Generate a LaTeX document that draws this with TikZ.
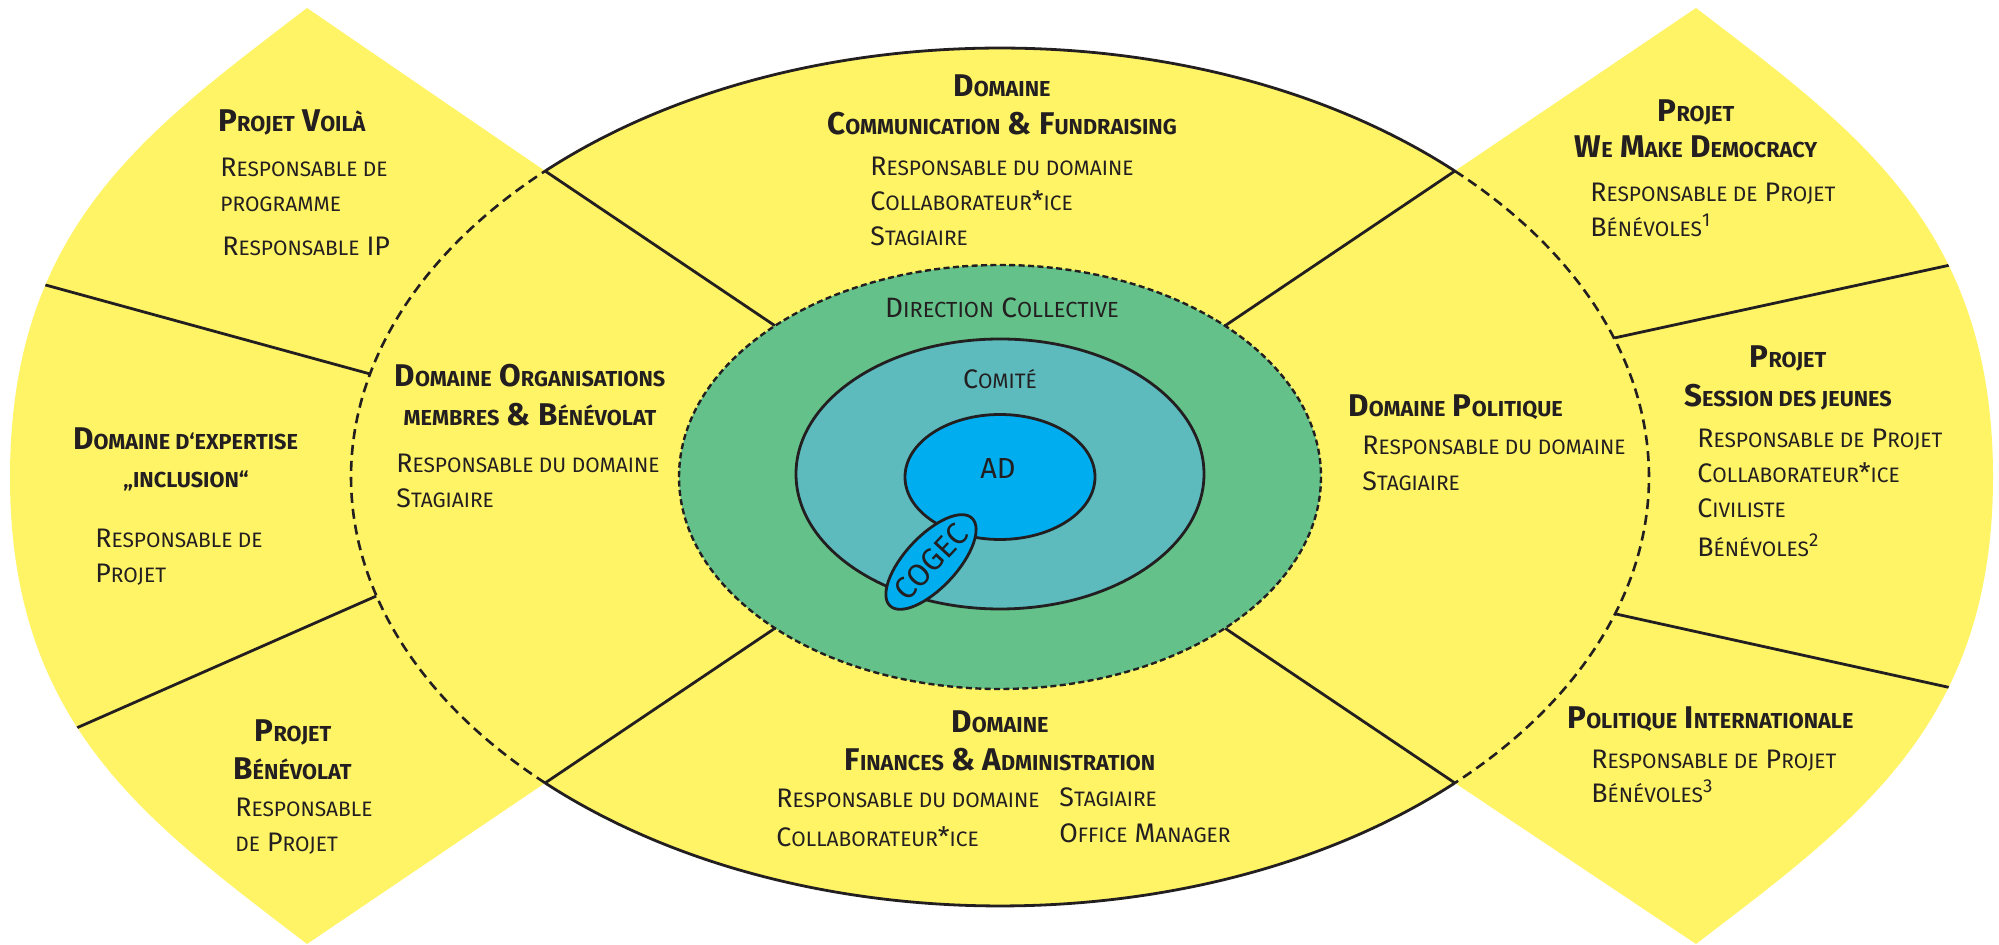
\documentclass[tikz,border=0pt]{standalone}
\usepackage{fontspec}
\setmainfont{Fira Sans}
\newfontfamily\scR[Scale=0.78]{Fira Sans}
\newfontfamily\scB[Scale=0.69]{Fira Sans}
\usetikzlibrary{calc}
\definecolor{yel}{HTML}{FFF466}
\definecolor{dcgreen}{HTML}{64C189}
\definecolor{comteal}{HTML}{5DBABD}
\definecolor{adblue}{HTML}{00AEEF}
\definecolor{ink}{HTML}{231F20}
\newcommand\sR[1]{{\scR #1}}
\newcommand\sB[1]{{\scB #1}}
\tikzset{
  sline/.style={draw=ink, line width=1.4pt},
  dline/.style={draw=ink, line width=1.3pt, dash pattern=on 5pt off 3pt},
  reg/.style={font=\fontsize{13.4}{16}\selectfont, text=ink, inner sep=0pt, anchor=base west},
  hd/.style={font=\fontsize{15.7}{19}\selectfont\bfseries, text=ink, inner sep=0pt, anchor=base},
  hdl/.style={hd, anchor=base west},
}
\begin{document}
\begin{tikzpicture}[x=0.5pt, y=-0.5pt]
\fill[white] (0,0) rectangle (1999,945);
\useasboundingbox (0,0) rectangle (1999,945);
\coordinate (C) at (1000,477);
% corners of the main ellipse
\coordinate (mTL) at ($(C)+(225.5:649 and 429)$);
\coordinate (mTR) at ($(C)+(314.5:649 and 429)$);
\coordinate (mBL) at ($(C)+(134.5:649 and 429)$);
\coordinate (mBR) at ($(C)+(45.5:649 and 429)$);
\coordinate (dTL) at ($(C)+(225.5:321 and 212)$);
\coordinate (dTR) at ($(C)+(314.5:321 and 212)$);
\coordinate (dBL) at ($(C)+(134.5:321 and 212)$);
\coordinate (dBR) at ($(C)+(45.5:321 and 212)$);
% petal divider points
\coordinate (pL1) at ($(C)+(193.9:649 and 429)$);
\coordinate (pL1o) at (20,278);
\coordinate (pL2) at ($(C)+(163.9:649 and 429)$);
\coordinate (pL2o) at (47,741);
\coordinate (pR1) at ($(C)+(-18.9:649 and 429)$);
\coordinate (pR1o) at (1978,259);
\coordinate (pR2) at ($(C)+(18.6:649 and 429)$);
\coordinate (pR2o) at (1979,694);

\def\leftpetal{(307,8) -- (mTL) -- (700,477) -- (mBL) -- (307,944) .. controls (148,822) and (10,726) .. (10,477) .. controls (10,226) and (148,130) .. (307,8) -- cycle}
\def\rightpetal{(1696,8) -- (mTR) -- (1300,477) -- (mBR) -- (1696,944) .. controls (1855,822) and (1993,726) .. (1993,477) .. controls (1993,226) and (1855,130) .. (1696,8) -- cycle}

\fill[yel] \leftpetal;
\fill[yel] \rightpetal;
\begin{scope}
  \clip \leftpetal;
  \draw[sline] (pL1) -- (pL1o);
  \draw[sline] (pL2) -- (pL2o);
\end{scope}
\begin{scope}
  \clip \rightpetal;
  \draw[sline] (pR1) -- (pR1o);
  \draw[sline] (pR2) -- (pR2o);
\end{scope}

% main ellipse
\fill[yel] (C) ellipse [x radius=649, y radius=429];
\draw[sline] (mTL) arc[start angle=225.5, end angle=314.5, x radius=649, y radius=429];
\draw[sline] (mBR) arc[start angle=45.5, end angle=134.5, x radius=649, y radius=429];
\draw[dline] (mBL) arc[start angle=134.5, end angle=225.5, x radius=649, y radius=429];
\draw[dline] (mTR) arc[start angle=314.5, end angle=405.5, x radius=649, y radius=429];
\draw[sline] (dTL) -- (mTL);
\draw[sline] (dTR) -- (mTR);
\draw[sline] (dBL) -- (mBL);
\draw[sline] (dBR) -- (mBR);

% inner ellipses
\filldraw[fill=dcgreen, draw=ink, line width=1.2pt, dash pattern=on 3pt off 1.7pt] (C) ellipse [x radius=321, y radius=212];
\filldraw[fill=comteal, draw=ink, line width=1.4pt] (1000,474) ellipse [x radius=204, y radius=135];
\filldraw[fill=adblue, draw=ink, line width=1.4pt] (1000,477) ellipse [x radius=95, y radius=62.5];
\filldraw[fill=adblue, draw=ink, line width=1.4pt, rotate around={47:(931,562)}] (931,562) ellipse [x radius=60, y radius=26];

% central texts
\node[reg, anchor=base, font=\fontsize{14}{16}\selectfont] (dc) at (1002,318) {D\sR{IRECTION} C\sR{OLLECTIVE}};
\node[reg, anchor=base] (com) at (1000,389) {C\sR{OMITÉ}};
\node[reg, anchor=base, font=\fontsize{14.5}{16}\selectfont] (ad) at (998,479) {AD};
\node[text=ink, inner sep=0pt, rotate=47, font=\fontsize{15.5}{16}\selectfont] (cogec) at (931,562) {COGEC};

% left petal
\node[hdl] (pv) at (218,132) {P\sB{ROJET} V\sB{OILÀ}};
\node[reg] (pv1) at (220,177) {R\sR{ESPONSABLE DE}};
\node[reg] (pv2) at (220,212) {\sR{PROGRAMME}};
\node[reg] (pv3) at (222,256) {R\sR{ESPONSABLE} IP};
\node[hd] (de1) at (185.5,450) {D\sB{OMAINE D‘EXPERTISE}};
\node[hd] (de2) at (186,488) {\sB{„INCLUSION“}};
\node[reg] (de3) at (95,548) {R\sR{ESPONSABLE DE}};
\node[reg] (de4) at (95,583) {P\sR{ROJET}};
\node[hd] (pb1) at (293,742) {P\sB{ROJET}};
\node[hd] (pb2) at (292.5,780) {B\sB{ÉNÉVOLAT}};
\node[reg] (pb3) at (235,817) {R\sR{ESPONSABLE}};
\node[reg] (pb4) at (235,852) {\sR{DE} P\sR{ROJET}};

% domaine organisations
\node[hd] (or1) at (530,387) {D\sB{OMAINE} O\sB{RGANISATIONS}};
\node[hd] (or2) at (530,426) {\sB{MEMBRES} \& B\sB{ÉNÉVOLAT}};
\node[reg] (or3) at (396,473) {R\sR{ESPONSABLE DU DOMAINE}};
\node[reg] (or4) at (396,508) {S\sR{TAGIAIRE}};

% communication
\node[hd] (cf1) at (1002,97) {D\sB{OMAINE}};
\node[hd] (cf2) at (1002,135) {C\sB{OMMUNICATION} \& F\sB{UNDRAISING}};
\node[reg] (cf3) at (870,176) {R\sR{ESPONSABLE DU DOMAINE}};
\node[reg] (cf4) at (870,211) {C\sR{OLLABORATEUR}*\sR{ICE}};
\node[reg] (cf5) at (870,246) {S\sR{TAGIAIRE}};

% finances
\node[hd] (fa1) at (1000,733) {D\sB{OMAINE}};
\node[hd] (fa2) at (1000,771) {F\sB{INANCES} \& A\sB{DMINISTRATION}};
\node[reg] (fa3) at (776,808) {R\sR{ESPONSABLE DU DOMAINE}};
\node[reg] (fa4) at (776,847) {C\sR{OLLABORATEUR}*\sR{ICE}};
\node[reg] (fa5) at (1059,807) {S\sR{TAGIAIRE}};
\node[reg] (fa6) at (1059,843) {O\sR{FFICE} M\sR{ANAGER}};

% politique
\node[hdl] (dp1) at (1348,417) {D\sB{OMAINE} P\sB{OLITIQUE}};
\node[reg] (dp2) at (1362,455) {R\sR{ESPONSABLE DU DOMAINE}};
\node[reg] (dp3) at (1362,491) {S\sR{TAGIAIRE}};

% right petal
\node[hd] (wm1) at (1696,122) {P\sB{ROJET}};
\node[hd] (wm2) at (1696,158) {W\sB{E} M\sB{AKE} D\sB{EMOCRACY}};
\node[reg] (wm3) at (1590,202) {R\sR{ESPONSABLE DE} P\sR{ROJET}};
\node[reg] (wm4) at (1590,237) {B\sR{ÉNÉVOLES}\textsuperscript{1}};
\node[hd] (sj1) at (1788,368) {P\sB{ROJET}};
\node[hd] (sj2) at (1788,407) {S\sB{ESSION DES JEUNES}};
\node[reg] (sj3) at (1697,448) {R\sR{ESPONSABLE DE} P\sR{ROJET}};
\node[reg] (sj4) at (1697,483) {C\sR{OLLABORATEUR}*\sR{ICE}};
\node[reg] (sj5) at (1697,518) {C\sR{IVILISTE}};
\node[reg] (sj6) at (1697,557) {B\sR{ÉNÉVOLES}\textsuperscript{2}};
\node[hdl] (pi1) at (1567,729) {P\sB{OLITIQUE} I\sB{NTERNATIONALE}};
\node[reg] (pi2) at (1591,769) {R\sR{ESPONSABLE DE} P\sR{ROJET}};
\node[reg] (pi3) at (1591,803) {B\sR{ÉNÉVOLES}\textsuperscript{3}};
\end{tikzpicture}
\end{document}
